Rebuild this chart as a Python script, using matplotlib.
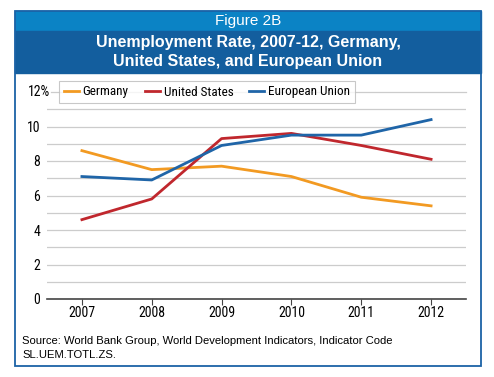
import matplotlib
matplotlib.use("Agg")
import matplotlib.pyplot as plt
from matplotlib.patches import Rectangle

years = [2007, 2008, 2009, 2010, 2011, 2012]
germany = [8.6, 7.5, 7.7, 7.1, 5.9, 5.4]
united_states = [4.6, 5.8, 9.3, 9.6, 8.9, 8.1]
european_union = [7.1, 6.9, 8.9, 9.5, 9.5, 10.4]
ytick_vals = [0, 2, 4, 6, 8, 10]
ytick_labels = ["0", "2", "4", "6", "8", "10"]
top_val = 12
top_label = "12%"

W, H = 494, 377
narrow = ["Roboto Condensed", "PT Sans Narrow", "DejaVu Sans"]
sans = ["Liberation Sans", "DejaVu Sans"]

fig = plt.figure(figsize=(W / 100, H / 100), dpi=100)

def fx(px):
    return px / W

def fy(py):
    return 1 - py / H

# header bands and outer border
fig.patches.append(Rectangle((fx(15), fy(31)), fx(466), 20 / H, transform=fig.transFigure,
                             color="#0B83C5", zorder=0))
fig.patches.append(Rectangle((fx(15), fy(73)), fx(466), 42 / H, transform=fig.transFigure,
                             color="#135E9E", zorder=0))
fig.patches.append(Rectangle((fx(15), fy(366)), fx(466), 355 / H, transform=fig.transFigure,
                             fill=False, edgecolor="#1B62A6", linewidth=1.3, zorder=1))
fig.text(fx(248), fy(21), "Figure 2B", color="white", ha="center", va="center",
         fontsize=11, family=sans)
fig.text(fx(248), fy(52), "Unemployment Rate, 2007-12, Germany,\nUnited States, and European Union",
         color="white", ha="center", va="center", fontsize=11.5, fontweight="bold",
         linespacing=1.35, family=sans)
fig.text(fx(22), fy(348), "Source: World Bank Group, World Development Indicators, Indicator Code\nSL.UEM.TOTL.ZS.",
         ha="left", va="center", fontsize=8.1, linespacing=1.45, family=sans)

ax_w = 466 - 47
ax = fig.add_axes([fx(47), fy(299), fx(ax_w), (299 - 92) / H])
ax.plot(years, germany, color="#F29A22", lw=2, label="Germany", zorder=3)
ax.plot(years, united_states, color="#C0272D", lw=2, label="United States", zorder=3)
ax.plot(years, european_union, color="#1F65A8", lw=2, label="European Union", zorder=3)

ax.set_xlim(2006.5, 2012.5)
ax.set_ylim(0, top_val)
ax.set_yticks(range(0, top_val), minor=True)
ax.set_yticks(ytick_vals, labels=ytick_labels)
ax.set_xticks(years, labels=[str(y) for y in years])
ax.grid(axis="y", which="both", color="#CCCCCC", lw=0.9)
ax.set_axisbelow(True)
# top gridline starts just right of the "12%" label
ax.axhline(top_val, xmin=4 / ax_w, xmax=1, color="#CCCCCC", lw=0.9, clip_on=False, zorder=0.5)
ax.text(-19 / ax_w, top_val, top_label, transform=ax.get_yaxis_transform(), ha="left", va="center",
        fontsize=10, family=narrow)
for s in ["top", "right", "left"]:
    ax.spines[s].set_visible(False)
ax.spines["bottom"].set_color("#444444")
ax.spines["bottom"].set_linewidth(1.2)
ax.tick_params(axis="y", which="major", length=0, pad=5, labelsize=10)
ax.tick_params(axis="y", which="minor", length=0)
ax.tick_params(axis="x", length=4, color="#444444", pad=1, labelsize=10)
for lab in ax.get_xticklabels() + ax.get_yticklabels():
    lab.set_family(narrow)

leg = ax.legend(loc="center", bbox_to_anchor=((207 - 47) / ax_w, 1.0),
                ncol=3, frameon=True, fancybox=False, handlelength=1.15, handletextpad=0.3,
                columnspacing=1.2, borderpad=0.35, borderaxespad=0,
                prop={"family": narrow, "size": 9.5})
leg.get_frame().set_edgecolor("#BBBBBB")
leg.get_frame().set_linewidth(0.8)

fig.savefig("out.png", dpi=100)
